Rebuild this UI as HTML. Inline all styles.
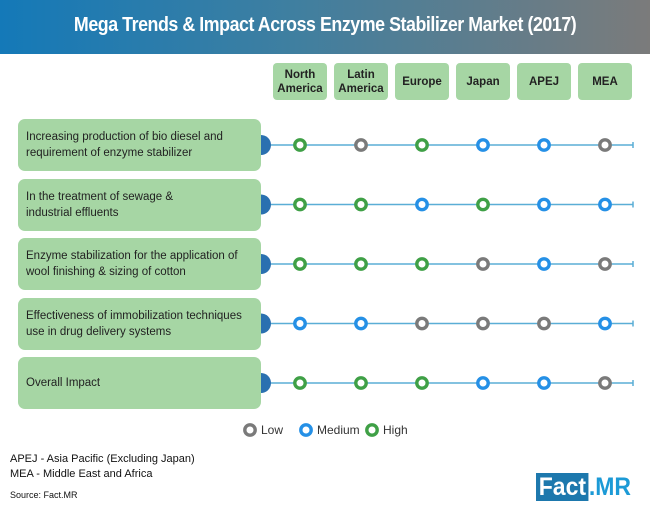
<!DOCTYPE html>
<html><head><meta charset="utf-8"><style>
body{margin:0;width:650px;height:511px;background:#fff;font-family:"Liberation Sans",sans-serif;overflow:hidden;position:relative}
.hdr{position:absolute;left:0;top:0;width:650px;height:54px;background:linear-gradient(90deg,#1479b8,#3f7fa0 45%,#7b7b7b);}
.hdr span{display:block;color:#fff;font-weight:bold;font-size:20px;text-align:center;line-height:50px;letter-spacing:-0.5px;transform:scaleX(0.89);transform-origin:326px 0}
.col{position:absolute;top:63px;height:37px;background:#a6d6a4;border-radius:4px;font-weight:bold;font-size:11.5px;color:#222;display:flex;align-items:center;justify-content:center;text-align:center;line-height:14px}
.row{position:absolute;left:18px;width:243px;height:52px;background:#a6d6a4;border-radius:7px;font-size:11.5px;color:#222;display:flex;align-items:center;padding-left:8px;box-sizing:border-box;line-height:16px}
.note{position:absolute;left:10px;font-size:11px;color:#111}
</style></head><body>
<div class="hdr"><span>Mega Trends &amp; Impact Across Enzyme Stabilizer Market (2017)</span></div>
<div id="cols"></div>
<div id="rows"></div>
<svg id="chart" width="650" height="511" style="position:absolute;left:0;top:0"></svg>
<div class="note" style="top:453px">APEJ - Asia Pacific (Excluding Japan)</div>
<div class="note" style="top:468px">MEA - Middle East and Africa</div>
<div class="note" style="top:490px;font-size:9px">Source: Fact.MR</div>
<div style="position:absolute;left:536px;top:472px;font-weight:bold;font-size:25px;line-height:30px;transform:scaleX(0.92);transform-origin:0 0"><span style="background:#1d78ad;color:#fff;padding:0 3px">Fact</span><span style="color:#1c9ad6">.MR</span></div>
<script>
const regions=["North<br>America","Latin<br>America","Europe","Japan","APEJ","MEA"];
const trends=["Increasing production of bio diesel and<br>requirement of enzyme stabilizer","In the treatment of sewage &amp;<br>industrial effluents","Enzyme stabilization for the application of<br>wool finishing &amp; sizing of cotton","Effectiveness of immobilization techniques<br>use in  drug delivery systems","Overall Impact"];
const impact1=["H","L","H","M","M","L"];
const impact2=["H","H","M","H","M","M"];
const impact3=["H","H","H","L","M","L"];
const impact4=["M","M","L","L","L","M"];
const impact5=["H","H","H","M","M","L"];
const impacts=[impact1,impact2,impact3,impact4,impact5];
const colors={L:"#7a7a7a",M:"#2590e6",H:"#3fa046"};
const xPos=i=>300+i*61;
const yPos=j=>145+j*59.5;
const NS="http://www.w3.org/2000/svg";
const svg=document.getElementById('chart');
const cols=document.getElementById('cols'),rows=document.getElementById('rows');
regions.forEach((r,i)=>{const d=document.createElement('div');d.className='col';d.style.left=(xPos(i)-27)+'px';d.style.width='54px';d.innerHTML=r;


cols.appendChild(d);});
function mk(t,a){const e=document.createElementNS(NS,t);for(const k in a)e.setAttribute(k,a[k]);svg.appendChild(e);return e;}
trends.forEach((t,j)=>{const y=yPos(j);
const d=document.createElement('div');d.className='row';d.style.top=(y-26)+'px';d.innerHTML=t;


rows.appendChild(d);
const ln=mk('line',{x1:262,y1:y,x2:633,y2:y,stroke:'#5aaed6','stroke-width':1.5});


mk('line',{x1:633,y1:y-3,x2:633,y2:y+3,stroke:'#5aaed6','stroke-width':1.5});
const hc=mk('path',{d:`M261 ${y-10} A10 10 0 0 1 261 ${y+10} Z`,fill:'#2a70b0'});


impacts[j].forEach((v,i)=>{const c=mk('circle',{cx:xPos(i),cy:y,r:5.2,fill:'#fff',stroke:colors[v],'stroke-width':3.4});

});
});
const leg=[["Low","L",250],["Medium","M",306],["High","H",372]];
leg.forEach(([l,k,x])=>{const c=mk('circle',{cx:x,cy:430,r:5.2,fill:'#fff',stroke:colors[k],'stroke-width':3.4});


const t=mk('text',{x:x+11,y:434,'font-size':12,fill:'#333','font-family':'Liberation Sans'});t.textContent=l;

});
</script>
</body></html>
